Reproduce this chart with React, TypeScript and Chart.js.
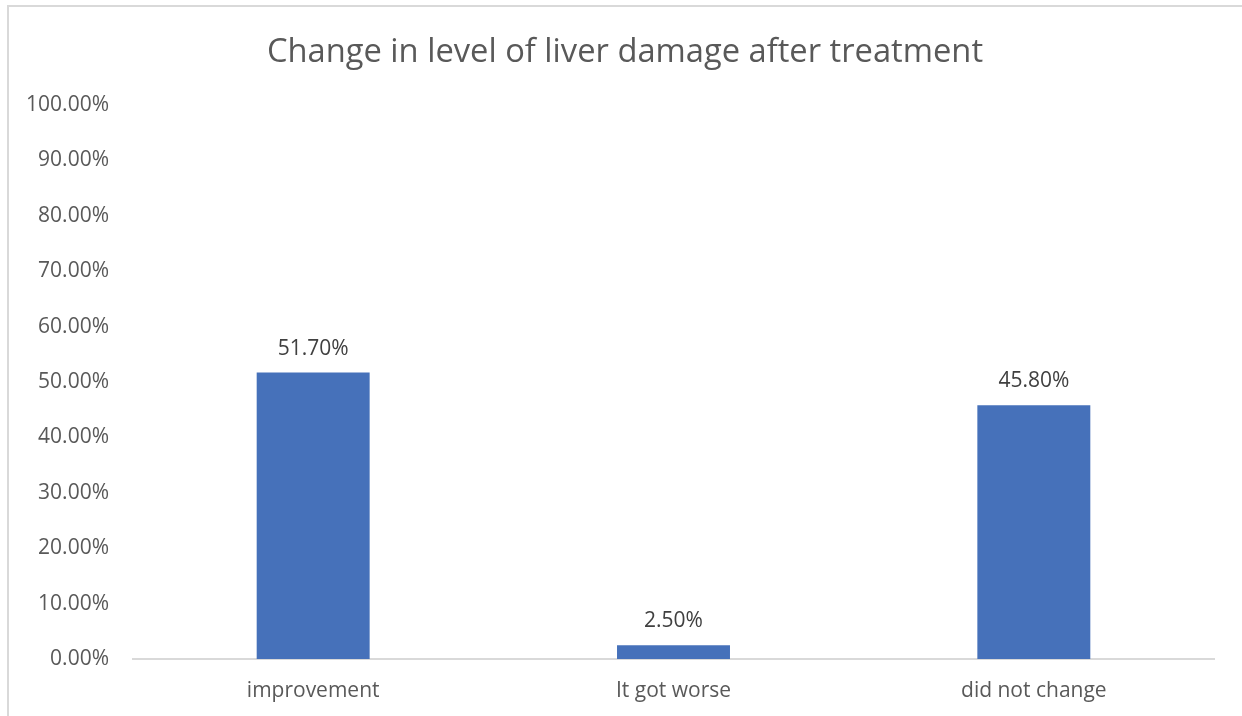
import React, { useEffect, useRef } from "react";
import { Chart, registerables } from "chart.js";

Chart.register(...registerables);

const title = "Change in level of liver damage after treatment";
const categories = ["improvement", "It got worse", "did not change"];
const values = [0.517, 0.025, 0.458];
const dataLabels = ["51.70%", "2.50%", "45.80%"];

const FONT = "'Open Sans', Lato, sans-serif";

const labelPlugin = {
  id: "barLabels",
  afterDatasetsDraw(chart: any) {
    const ctx = chart.ctx;
    const meta = chart.getDatasetMeta(0);
    ctx.save();
    ctx.font = `21px ${FONT}`;
    ctx.fillStyle = "#404040";
    ctx.textAlign = "center";
    ctx.textBaseline = "alphabetic";
    meta.data.forEach((bar: any, i: number) => {
      ctx.fillText(dataLabels[i], bar.x, bar.y - 18);
    });
    ctx.restore();
  },
};

const titlePlugin = {
  id: "chartTitle",
  afterDraw(chart: any) {
    const ctx = chart.ctx;
    ctx.save();
    ctx.font = `32.7px ${FONT}`;
    ctx.fillStyle = "#595959";
    ctx.textAlign = "center";
    ctx.textBaseline = "alphabetic";
    ctx.fillText(title, 625, 62);
    ctx.restore();
  },
};

export default function App() {
  const ref = useRef<HTMLCanvasElement>(null);
  useEffect(() => {
    document.body.style.margin = "0";
    const chart = new Chart(ref.current!, {
      type: "bar",
      data: {
        labels: categories,
        datasets: [
          {
            data: values,
            backgroundColor: "#4671BA",
            categoryPercentage: 1,
            barPercentage: 0.3135,
          },
        ],
      },
      options: {
        responsive: false,
        animation: false,
        layout: { padding: { top: 105, left: 0, right: 28, bottom: 0 } },
        plugins: {
          legend: { display: false },
          tooltip: { enabled: false },
          title: { display: false },
        },
        scales: {
          x: {
            grid: { display: false, drawTicks: false },
            border: { display: true, color: "#d9d9d9", width: 2 },
            ticks: {
              color: "#595959",
              font: { family: FONT, size: 21 },
              padding: 19,
            },
            afterFit: (s: any) => {
              s.height = 57;
            },
          },
          y: {
            min: 0,
            max: 1,
            grid: { display: false, drawTicks: false },
            border: { display: false },
            ticks: {
              stepSize: 0.1,
              color: "#595959",
              font: { family: FONT, size: 21 },
              padding: 24,
              callback: (v: any) => (Number(v) * 100).toFixed(2) + "%",
            },
            afterFit: (s: any) => {
              s.width = 133;
            },
          },
        },
      },
      plugins: [labelPlugin, titlePlugin],
    });
    return () => chart.destroy();
  }, []);
  return (
    <div style={{ position: "relative", width: 1242, height: 716, background: "#fff" }}>
      <canvas ref={ref} width={1242} height={716} style={{ display: "block" }} />
      <div
        style={{
          position: "absolute",
          left: 7,
          top: 5,
          right: 0,
          bottom: 0,
          borderTop: "2px solid #d9d9d9",
          borderLeft: "2px solid #d9d9d9",
          pointerEvents: "none",
        }}
      />
    </div>
  );
}
